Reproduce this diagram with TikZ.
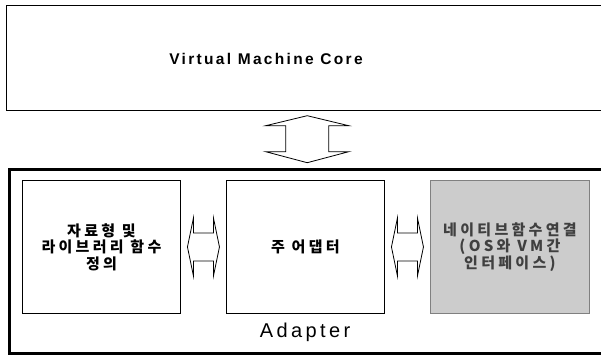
\documentclass[tikz,border=0pt]{standalone}
\usepackage{fontspec}
\usepackage{xcolor}
\usepackage{tikz}
\usetikzlibrary{positioning, calc}

\setsansfont{Liberation Sans}
\newfontfamily\krfont[LetterSpace=22]{Noto Sans CJK KR}
\newfontfamily\corefont[LetterSpace=15]{Liberation Sans}
\newfontfamily\adapterfont[LetterSpace=17]{Liberation Sans}

\tikzset{
    hlink/.pic={
        \draw[line width=0.8pt, fill=white] (-16,0) -- (-10,-29) -- (-10,-14) -- (10,-14) -- (10,-29) -- (16,0)
            -- (10,29) -- (10,14) -- (-10,14) -- (-10,29) -- cycle;
    },
    vlink/.pic={
        \draw[line width=0.8pt, fill=white] (0,-23.5) -- (41.5,-13.5) -- (21.5,-13.5) -- (21.5,12.5) -- (41.5,12.5)
            -- (0,23.5) -- (-41.5,12.5) -- (-21.5,12.5) -- (-21.5,-13.5) -- (-41.5,-13.5) -- cycle;
    }
}

\begin{document}
\begin{tikzpicture}[x=1pt, y=-1pt, font=\sffamily,
    box/.style={draw, line width=0.9pt, rectangle, inner sep=0pt, anchor=north west,
        minimum width=158pt, minimum height=133pt, align=center,
        font=\krfont\bfseries\fontsize{15}{16.5}\selectfont}]
    \useasboundingbox (0,0) rectangle (601,356);
    \clip (0,0) rectangle (601,356);

    \node[draw, line width=0.9pt, inner sep=0pt, anchor=north west, minimum width=600pt, minimum height=105.5pt] (core) at (6,4.5) {};
    \node[font=\corefont\bfseries\fontsize{15.5}{17}\selectfont] (coretitle) at (266,59) {Virtual Machine Core};

    \node[draw, line width=3pt, inner sep=0pt, anchor=north west, minimum width=598pt, minimum height=184.5pt] (adapter) at (7.5,167.5) {};
    \node[font=\adapterfont\fontsize{20}{22}\selectfont] (adaptertitle) at (305,332) {Adapter};

    \node[box] (lib) at (22,180) {자료형 및\\라이브러리 함수\\정의};
    \node[box] (main) at (226,180) {주 어댑터};
    \node[box, draw=gray, fill=gray!40, text=black!75, minimum width=159pt] (native) at (430,180) {네이티브함수연결\\(OS와 VM간\\인터페이스)};

    \pic at ($(core.south)!.5!(adapter.north)$) {vlink};
    \pic at ($(lib.east)!.5!(main.west)$) {hlink};
    \pic at ($(main.east)!.5!(native.west)$) {hlink};
\end{tikzpicture}
\end{document}
